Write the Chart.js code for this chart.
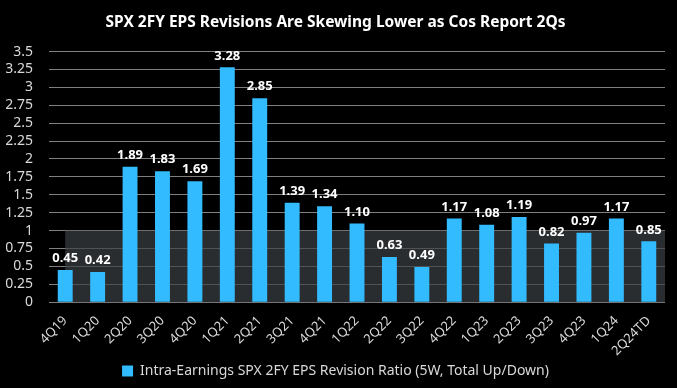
<!DOCTYPE html>
<html>
<head>
<meta charset="utf-8">
<script src="https://cdn.jsdelivr.net/npm/chart.js@4"></script>
<style>
  html, body { margin: 0; padding: 0; background: #000; }
  #wrap { width: 677px; height: 388px; }
</style>
</head>
<body>
<div id="wrap"><canvas id="chartEps"></canvas></div>
<script>
const quarters = ['4Q19', '1Q20', '2Q20', '3Q20', '4Q20', '1Q21', '2Q21', '3Q21', '4Q21', '1Q22',
  '2Q22', '3Q22', '4Q22', '1Q23', '2Q23', '3Q23', '4Q23', '1Q24', '2Q24TD'];
const revisionRatio = [0.45, 0.42, 1.89, 1.83, 1.69, 3.28, 2.85, 1.39, 1.34, 1.10,
  0.63, 0.49, 1.17, 1.08, 1.19, 0.82, 0.97, 1.17, 0.85];
const bandTop = 1; // shaded zone 0..1

const fontFam = "'Noto Sans', 'Open Sans', sans-serif";

// grey band from first category to the right edge, 0 -> 1
const bandPlugin = {
  id: 'band',
  beforeDatasetsDraw(chart) {
    const { ctx, chartArea, scales } = chart;
    const left = scales.x.getPixelForValue(0);
    const top = scales.y.getPixelForValue(bandTop);
    const bottom = scales.y.getPixelForValue(0);
    ctx.save();
    ctx.fillStyle = 'rgba(60, 64, 68, 0.7)';
    ctx.fillRect(left, top, chartArea.right - left, bottom - top);
    ctx.restore();
  }
};

// value labels above each bar
const valuePlugin = {
  id: 'values',
  afterDatasetsDraw(chart) {
    const { ctx } = chart;
    const meta = chart.getDatasetMeta(0);
    ctx.save();
    ctx.fillStyle = '#ffffff';
    ctx.font = 'bold 13px ' + fontFam;
    ctx.textAlign = 'center';
    ctx.textBaseline = 'bottom';
    meta.data.forEach((bar, i) => {
      ctx.fillText(revisionRatio[i].toFixed(2), bar.x, bar.y - 5);
    });
    ctx.restore();
  }
};

const chart1 = document.getElementById('chartEps').getContext('2d');
const chartEps = new Chart(chart1, {
  type: 'bar',
  data: {
    labels: quarters,
    datasets: [{
      label: 'Intra-Earnings SPX 2FY EPS Revision Ratio (5W, Total Up/Down)',
      data: revisionRatio,
      backgroundColor: '#33bbff',
      borderWidth: 0,
      barPercentage: 0.46,
      categoryPercentage: 1
    }]
  },
  options: {
    responsive: true,
    maintainAspectRatio: false,
    animation: false,
    layout: { padding: { left: 6, right: 12, top: 0, bottom: 0 } },
    plugins: {
      title: {
        display: true,
        text: 'SPX 2FY EPS Revisions Are Skewing Lower as Cos Report 2Qs',
        color: '#ffffff',
        font: { family: fontFam, size: 15.5, weight: 'bold' },
        padding: { top: 13, bottom: 20 }
      },
      legend: {
        position: 'bottom',
        labels: {
          color: '#d9d9d9',
          font: { family: fontFam, size: 14 },
          boxWidth: 11,
          boxHeight: 11,
          padding: 2
        }
      },
      tooltip: { enabled: false }
    },
    scales: {
      x: {
        grid: { display: false },
        border: { display: false },
        afterFit(scale) {
          scale.paddingLeft = 0;
        },
        ticks: {
          color: '#d9d9d9',
          font: { family: fontFam, size: 13 },
          maxRotation: 45,
          minRotation: 45,
          padding: 3
        }
      },
      y: {
        min: 0,
        max: 3.5,
        border: { display: false },
        grid: { color: '#7f7f7f', lineWidth: 1, drawTicks: false },
        afterFit(scale) {
          scale.width = 43; // axis labels end ~16px before the gridlines
        },
        ticks: {
          stepSize: 0.25,
          autoSkip: false,
          color: '#d9d9d9',
          font: { family: fontFam, size: 14 },
          padding: 16,
          callback: v => String(+v.toFixed(2))
        }
      }
    }
  },
  plugins: [bandPlugin, valuePlugin]
});
</script>
</body>
</html>
